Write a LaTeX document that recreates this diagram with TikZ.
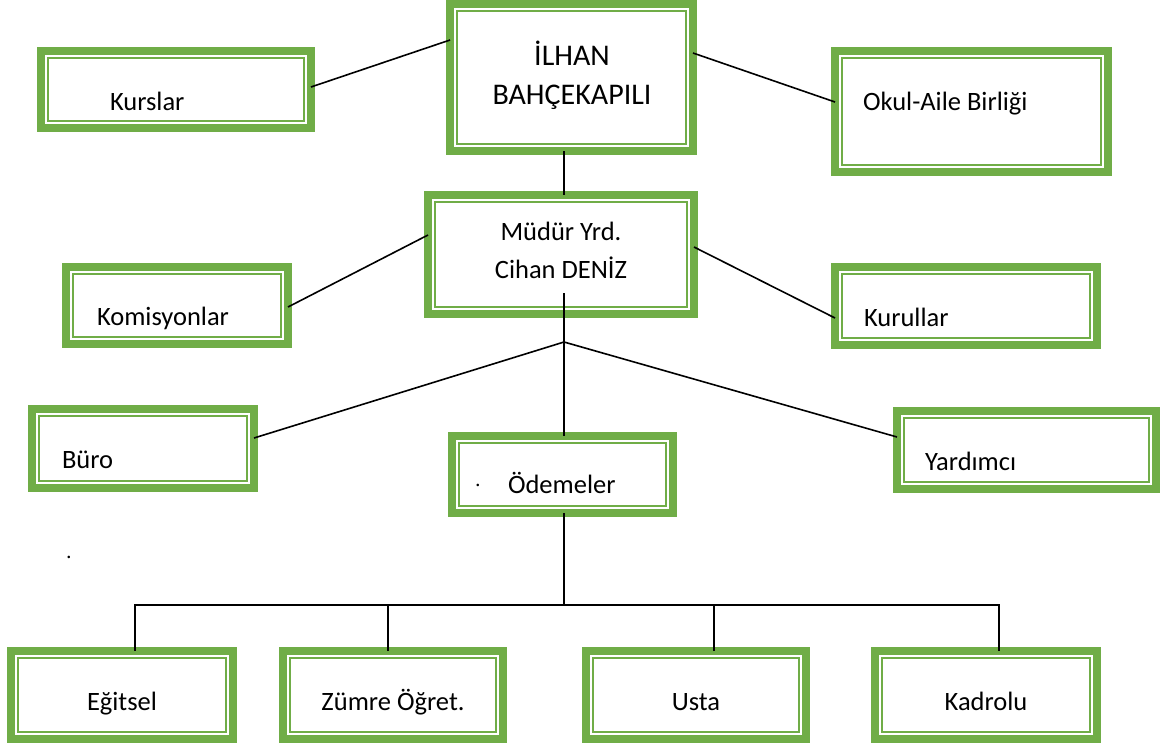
\documentclass[tikz,border=0pt]{standalone}
\usepackage{fontspec}
\setmainfont{Carlito}
\usetikzlibrary{calc}
\definecolor{gr}{RGB}{112,173,71}
\tikzset{
  gbox/.style={draw=gr, line width=8pt, fill=white, rectangle, inner sep=0pt, outer sep=0pt},
  thinln/.style={draw=gr, line width=1.8pt},
  conn/.style={draw=black, line width=1.6pt},
  lbl/.style={inner sep=0pt, outer sep=0pt, font=\fontsize{26.5}{32}\selectfont, text=black},
  big/.style={font=\fontsize{30}{36}\selectfont}
}
\newcommand\gbox[5]{%
  \node[gbox, minimum width={(#4-#2-8)*1pt}, minimum height={(#5-#3-8)*1pt}] (#1) at ({(#2+#4)/2},{(#3+#5)/2}) {};
  \draw[thinln] ([shift={(7pt,-7pt)}]#1.north west) rectangle ([shift={(-7pt,7pt)}]#1.south east);
}
\begin{document}
\begin{tikzpicture}[x=1pt,y=-1pt]
\useasboundingbox (0,0) rectangle (1164,748);
% boxes
\gbox{ilhan}{446}{0}{697}{155}
\gbox{kurs}{37}{47}{315}{132}
\gbox{okul}{831}{47}{1112}{176}
\gbox{mudur}{424}{191}{698}{318}
\gbox{komis}{62}{263}{292}{348}
\gbox{kurul}{831}{263}{1101}{349}
\gbox{buro}{28}{405}{258}{492}
\gbox{odeme}{448}{432}{677}{517}
\gbox{yard}{893}{407}{1160}{493}
\gbox{egit}{7}{647}{237}{743}
\gbox{zumre}{279}{647}{507}{743}
\gbox{usta}{582}{647}{810}{743}
\gbox{kadro}{871}{647}{1101}{743}
% labels
\node[lbl, big, anchor=base] (t1a) at (572,65) {İLHAN};
\node[lbl, big, anchor=base] (t1b) at (572,104) {BAHÇEKAPILI};
\node[lbl, anchor=base west] (t2) at (110,110) {Kurslar};
\node[lbl, anchor=base west] (t3) at (863,110) {Okul-Aile Birliği};
\node[lbl, anchor=base] (t4a) at (561,240) {Müdür Yrd.};
\node[lbl, anchor=base] (t4b) at (561,278) {Cihan DENİZ};
\node[lbl, anchor=base west] (t5) at (97,325) {Komisyonlar};
\node[lbl, anchor=base west] (t6) at (864,326) {Kurullar};
\node[lbl, anchor=base west] (t7) at (62,468) {Büro};
\node[lbl, anchor=base, font=\fontsize{18}{20}\selectfont] (t8dot) at (478,490) {·};
\node[lbl, anchor=base west] (t8) at (508,493) {Ödemeler};
\node[lbl, anchor=base west] (t9) at (925,470) {Yardımcı};
\node[lbl, anchor=base, font=\fontsize{18}{20}\selectfont] (dot2) at (69,562) {·};
\node[lbl, anchor=base] (t10) at (122,710) {Eğitsel};
\node[lbl, anchor=base] (t11) at (393,710) {Zümre Öğret.};
\node[lbl, anchor=base] (t12) at (696,710) {Usta};
\node[lbl, anchor=base] (t13) at (986,710) {Kadrolu};
% connectors
\draw[conn] ([yshift=37.5pt]ilhan.west) -- ([yshift=2.5pt]kurs.east);
\draw[conn] ([yshift=24.5pt]ilhan.east) -- ([yshift=9.5pt]okul.west);
\draw[conn] ([xshift=-7.5pt]ilhan.south) -- ([xshift=3pt]mudur.north);
\draw[conn] ([yshift=19.5pt]mudur.west) -- ([yshift=-1.5pt]komis.east);
\draw[conn] ([yshift=7.5pt]mudur.east) -- ([yshift=-12pt]kurul.west);
\coordinate (j) at (564,342);
\draw[conn] ([xshift=3pt,yshift=-38.5pt]mudur.center) -- (j);
\draw[conn] (j) -- ([yshift=10.5pt]buro.east);
\draw[conn] (j) -- ([yshift=13pt]yard.west);
\draw[conn] (j) -- ([xshift=1.5pt]odeme.north);
\coordinate (busL) at (135,605);
\coordinate (busR) at (999,605);
\coordinate (busM) at (564,605);
\draw[conn] ([xshift=1.5pt]odeme.south) -- (busM);
\draw[conn] ([xshift=13pt]egit.north) -- (busL) -- (busR) -- ([xshift=13pt]kadro.north);
\draw[conn] ([xshift=-5pt]zumre.north) -- ([xshift=-5pt]zumre.north |- busL);
\draw[conn] ([xshift=18pt]usta.north) -- ([xshift=18pt]usta.north |- busL);
\end{tikzpicture}
\end{document}
